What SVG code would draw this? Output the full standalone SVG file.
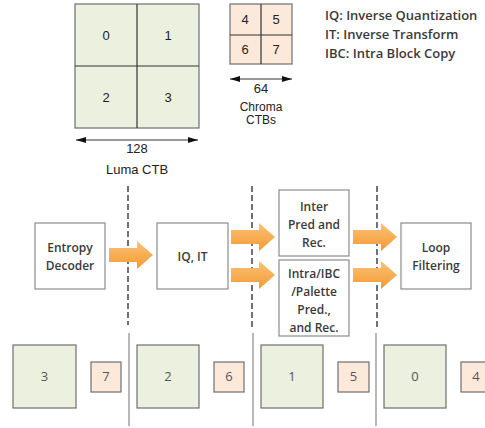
<svg xmlns="http://www.w3.org/2000/svg" width="485" height="428" viewBox="0 0 485 428">
  <style>
    .luma { fill: #ebf1de; stroke: #6f6f6f; stroke-width: 1.2; }
    .chroma { fill: #fde9d9; stroke: #6f6f6f; stroke-width: 1.2; }
    .grid { stroke: #333; stroke-width: 1.2; }
    .box { fill: #fff; stroke: #8c8c8c; stroke-width: 1.2; }
    .num { font-family: "Liberation Sans", Arial, sans-serif; font-size: 13px; fill: #222; text-anchor: middle; }
    .lbl { font-family: "Liberation Sans", Arial, sans-serif; font-size: 13px; fill: #222; text-anchor: middle; }
    .lbl-s { font-family: "Liberation Sans", Arial, sans-serif; font-size: 12px; fill: #222; text-anchor: middle; }
    .stage { font-family: "Open Sans", "Lato", sans-serif; font-size: 12px; font-weight: 600; fill: #3a3a3a; text-anchor: middle; }
    .legend { font-family: "Open Sans", "Lato", sans-serif; font-size: 13px; font-weight: 600; fill: #3a3a3a; }
    .bnum { font-family: "Open Sans", "Lato", sans-serif; font-size: 13px; fill: #555; text-anchor: middle; }
    .dash { stroke: #444; stroke-width: 1.5; stroke-dasharray: 6 3; }
    .sep { stroke: #888; stroke-width: 1.2; }
    .dim { stroke: #333; stroke-width: 1; marker-start: url(#arrL); marker-end: url(#arrR); }
    .flow { fill: url(#orange); }
  </style>
  <defs>
    <marker id="arrR" viewBox="0 0 10 6" refX="10" refY="3" markerWidth="10" markerHeight="6" markerUnits="userSpaceOnUse" orient="auto">
      <path d="M0,0 L10,3 L0,6 Z" fill="#111"/>
    </marker>
    <marker id="arrL" viewBox="0 0 10 6" refX="0" refY="3" markerWidth="10" markerHeight="6" markerUnits="userSpaceOnUse" orient="auto">
      <path d="M10,0 L0,3 L10,6 Z" fill="#111"/>
    </marker>
    <linearGradient id="orange" x1="0" y1="0" x2="0" y2="1">
      <stop offset="0" stop-color="#fbc27a"/>
      <stop offset="1" stop-color="#f59a30"/>
    </linearGradient>
    <path id="fat" d="M0,-7 L28,-7 L28,-14 L44,0 L28,14 L28,7 L0,7 Z"/>
  </defs>

  <!-- Luma CTB -->
  <g id="luma-ctb">
    <rect class="luma" x="75" y="4" width="124" height="124"/>
    <line class="grid" x1="137" y1="4" x2="137" y2="128"/>
    <line class="grid" x1="75" y1="66" x2="199" y2="66"/>
    <text class="num" x="106" y="40">0</text>
    <text class="num" x="168" y="40">1</text>
    <text class="num" x="106" y="102">2</text>
    <text class="num" x="168" y="102">3</text>
    <line class="dim" x1="76" y1="140" x2="198" y2="140"/>
    <text class="lbl" x="137" y="153">128</text>
    <text class="lbl" x="137" y="174">Luma CTB</text>
  </g>

  <!-- Chroma CTBs -->
  <g id="chroma-ctb">
    <rect class="chroma" x="230" y="4" width="62" height="60"/>
    <line class="grid" x1="261" y1="4" x2="261" y2="64"/>
    <line class="grid" x1="230" y1="35" x2="292" y2="35"/>
    <text class="num" x="245" y="24">4</text>
    <text class="num" x="276" y="24">5</text>
    <text class="num" x="245" y="54">6</text>
    <text class="num" x="276" y="54">7</text>
    <line class="dim" x1="230" y1="79" x2="292" y2="79"/>
    <text class="lbl" x="261" y="93">64</text>
    <text class="lbl-s" x="261" y="111">Chroma</text>
    <text class="lbl-s" x="261" y="124">CTBs</text>
  </g>

  <!-- Legend -->
  <g id="legend">
    <text class="legend" x="325" y="20">IQ: Inverse Quantization</text>
    <text class="legend" x="325" y="39">IT: Inverse Transform</text>
    <text class="legend" x="325" y="58">IBC: Intra Block Copy</text>
  </g>

  <!-- Connectors: flow arrows and stage separators -->
  <g id="connectors">
    <line class="dash" x1="128" y1="186" x2="128" y2="325"/>
    <line class="dash" x1="252" y1="186" x2="252" y2="330"/>
    <line class="dash" x1="377" y1="186" x2="377" y2="330"/>
    <use href="#fat" class="flow" transform="translate(109,255)"/>
    <use href="#fat" class="flow" transform="translate(231,237)"/>
    <use href="#fat" class="flow" transform="translate(231,275)"/>
    <use href="#fat" class="flow" transform="translate(353,237)"/>
    <use href="#fat" class="flow" transform="translate(353,275)"/>
    <line class="sep" x1="129" y1="333" x2="129" y2="426"/>
    <line class="sep" x1="253" y1="333" x2="253" y2="426"/>
    <line class="sep" x1="376" y1="333" x2="376" y2="426"/>
  </g>

  <!-- Pipeline stages -->
  <g id="entropy-decoder">
    <rect class="box" x="35" y="223" width="70" height="66"/>
    <text class="stage" x="70" y="252">Entropy</text>
    <text class="stage" x="70" y="270">Decoder</text>
  </g>
  <g id="iq-it">
    <rect class="box" x="157" y="223" width="71" height="66"/>
    <text class="stage" x="192.5" y="261">IQ, IT</text>
  </g>
  <g id="inter-pred">
    <rect class="box" x="279" y="190" width="70" height="66"/>
    <text class="stage" x="314" y="211">Inter</text>
    <text class="stage" x="314" y="229">Pred and</text>
    <text class="stage" x="314" y="247">Rec.</text>
  </g>
  <g id="intra-pred">
    <rect class="box" x="279" y="260" width="70" height="76"/>
    <text class="stage" x="314" y="278">Intra/IBC</text>
    <text class="stage" x="314" y="296">/Palette</text>
    <text class="stage" x="314" y="314">Pred.,</text>
    <text class="stage" x="314" y="332">and Rec.</text>
  </g>
  <g id="loop-filtering">
    <rect class="box" x="401" y="223" width="70" height="66"/>
    <text class="stage" x="436" y="252">Loop</text>
    <text class="stage" x="436" y="270">Filtering</text>
  </g>

  <!-- Block schedule per stage -->
  <g id="slot-3-7">
    <rect class="luma" x="13" y="345" width="63" height="63"/>
    <text class="bnum" x="44.5" y="381">3</text>
    <rect class="chroma" x="91" y="362" width="30" height="30"/>
    <text class="bnum" x="106" y="381">7</text>
  </g>
  <g id="slot-2-6">
    <rect class="luma" x="137" y="345" width="62" height="63"/>
    <text class="bnum" x="168" y="381">2</text>
    <rect class="chroma" x="214" y="362" width="30" height="30"/>
    <text class="bnum" x="229" y="381">6</text>
  </g>
  <g id="slot-1-5">
    <rect class="luma" x="261" y="345" width="62" height="63"/>
    <text class="bnum" x="292" y="381">1</text>
    <rect class="chroma" x="338" y="362" width="31" height="30"/>
    <text class="bnum" x="353.5" y="381">5</text>
  </g>
  <g id="slot-0-4">
    <rect class="luma" x="384" y="345" width="62" height="63"/>
    <text class="bnum" x="415" y="381">0</text>
    <rect class="chroma" x="461" y="362" width="30" height="30"/>
    <text class="bnum" x="476" y="381">4</text>
  </g>
</svg>
